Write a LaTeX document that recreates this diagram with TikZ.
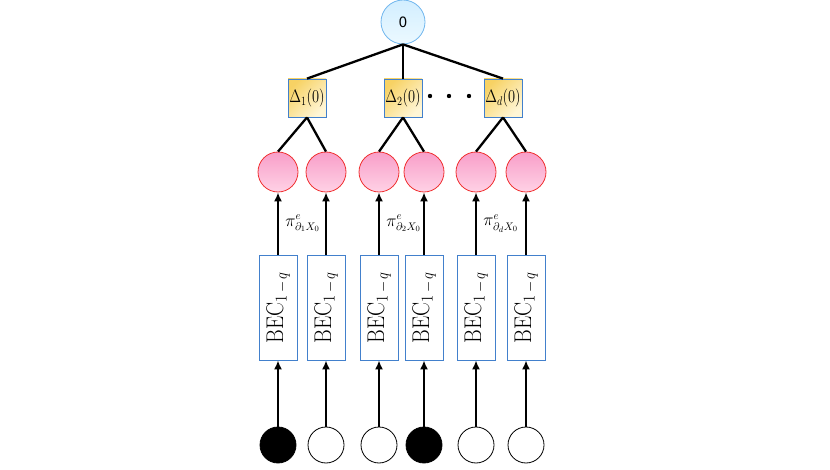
\documentclass[tikz,border=0pt]{standalone}
\usepackage{amsmath}
\usepackage{amssymb}
\usepackage{fontspec}
\usetikzlibrary{arrows.meta}
\newfontfamily\rootfont{TeX Gyre Heros}
\definecolor{ecblue}{RGB}{66,128,204}
\definecolor{ecsky}{RGB}{112,182,238}
\definecolor{ecskytop}{RGB}{210,238,255}
\definecolor{ecskybot}{RGB}{236,249,255}
\definecolor{ecgold}{RGB}{247,210,100}
\definecolor{eccream}{RGB}{255,246,214}
\definecolor{ecred}{RGB}{240,48,48}
\definecolor{ecpink}{RGB}{248,158,200}
\definecolor{ecpinklight}{RGB}{255,210,230}

\begin{document}
\begin{tikzpicture}[
  x=1pt, y=-1pt,
  rootnode/.style={circle, draw=ecsky, thick, top color=ecskytop, bottom color=ecskybot, minimum size=44pt, inner sep=0pt, font=\rootfont\fontsize{15}{18}\selectfont},
  checknode/.style={rectangle, draw=ecblue, thick, top color=ecgold, bottom color=eccream, shading angle=45, minimum size=38pt, inner sep=0pt, font=\fontsize{14}{16}\selectfont},
  varnode/.style={circle, draw=ecred, thick, top color=ecpink, bottom color=ecpinklight, minimum size=40pt, inner sep=0pt},
  channel/.style={rectangle, draw=ecblue, thick, fill=white, minimum width=38pt, minimum height=105pt, inner sep=0pt, font=\fontsize{21}{25}\selectfont},
  bitnode/.style={circle, draw=black, thick, fill=white, minimum size=36pt, inner sep=0pt},
  erased/.style={bitnode, fill=black},
  edge/.style={line width=2.3pt},
  arrow/.style={-{Latex[length=9pt,width=8pt]}, line width=2.3pt},
  msg/.style={midway, right, xshift=3pt, font=\fontsize{16}{18}\selectfont}
]
\useasboundingbox (0,0) rectangle (830,470);

% Root
\node[rootnode] (root) at (403,22) {0};

% Check row
\node[checknode] (d1) at (307,98) {\scalebox{1}[1.25]{$\Delta_1(0)$}};
\node[checknode] (d2) at (403,98) {\scalebox{1}[1.25]{$\Delta_2(0)$}};
\node[checknode] (d3) at (503,98) {\scalebox{1}[1.25]{$\Delta_d(0)$}};
\fill (430,96) circle (2.2pt) (449,96) circle (2.2pt) (469,96) circle (2.2pt);

% Variable row
\node[varnode] (c1) at (278,172) {};
\node[varnode] (c2) at (326,172) {};
\node[varnode] (c3) at (379,172) {};
\node[varnode] (c4) at (424,172) {};
\node[varnode] (c5) at (476,172) {};
\node[varnode] (c6) at (526,172) {};

% Channels
\node[channel] (bec1) at (278,307.5) {\rotatebox{90}{\scalebox{1}[1.15]{$\mathrm{BEC}_{1\,-\,q}$}}};
\node[channel] (bec2) at (326,307.5) {\rotatebox{90}{\scalebox{1}[1.15]{$\mathrm{BEC}_{1\,-\,q}$}}};
\node[channel] (bec3) at (379,307.5) {\rotatebox{90}{\scalebox{1}[1.15]{$\mathrm{BEC}_{1\,-\,q}$}}};
\node[channel] (bec4) at (424,307.5) {\rotatebox{90}{\scalebox{1}[1.15]{$\mathrm{BEC}_{1\,-\,q}$}}};
\node[channel] (bec5) at (476,307.5) {\rotatebox{90}{\scalebox{1}[1.15]{$\mathrm{BEC}_{1\,-\,q}$}}};
\node[channel] (bec6) at (526,307.5) {\rotatebox{90}{\scalebox{1}[1.15]{$\mathrm{BEC}_{1\,-\,q}$}}};

% Bottom row - inputs
\node[erased] (x1) at (278,445) {};
\node[bitnode] (x2) at (326,445) {};
\node[bitnode] (x3) at (379,445) {};
\node[erased] (x4) at (424,445) {};
\node[bitnode] (x5) at (476,445) {};
\node[bitnode] (x6) at (526,445) {};

% Tree edges
\draw[edge] (root.south) -- (d1.north);
\draw[edge] (root.south) -- (d2.north);
\draw[edge] (root.south) -- (d3.north);
\draw[edge] (d1.south) -- (c1.north);
\draw[edge] (d1.south) -- (c2.north);
\draw[edge] (d2.south) -- (c3.north);
\draw[edge] (d2.south) -- (c4.north);
\draw[edge] (d3.south) -- (c5.north);
\draw[edge] (d3.south) -- (c6.north);

% Arrows
\draw[arrow] (bec1.north) -- (c1.south) node[msg] {$\pi^e_{\partial_1 X_0}$};
\draw[arrow] (bec2.north) -- (c2.south);
\draw[arrow] (bec3.north) -- (c3.south) node[msg] {$\pi^e_{\partial_2 X_0}$};
\draw[arrow] (bec4.north) -- (c4.south);
\draw[arrow] (bec5.north) -- (c5.south) node[msg] {$\pi^e_{\partial_d X_0}$};
\draw[arrow] (bec6.north) -- (c6.south);
\draw[arrow] (x1) -- (bec1.south);
\draw[arrow] (x2) -- (bec2.south);
\draw[arrow] (x3) -- (bec3.south);
\draw[arrow] (x4) -- (bec4.south);
\draw[arrow] (x5) -- (bec5.south);
\draw[arrow] (x6) -- (bec6.south);

\end{tikzpicture}
\end{document}
